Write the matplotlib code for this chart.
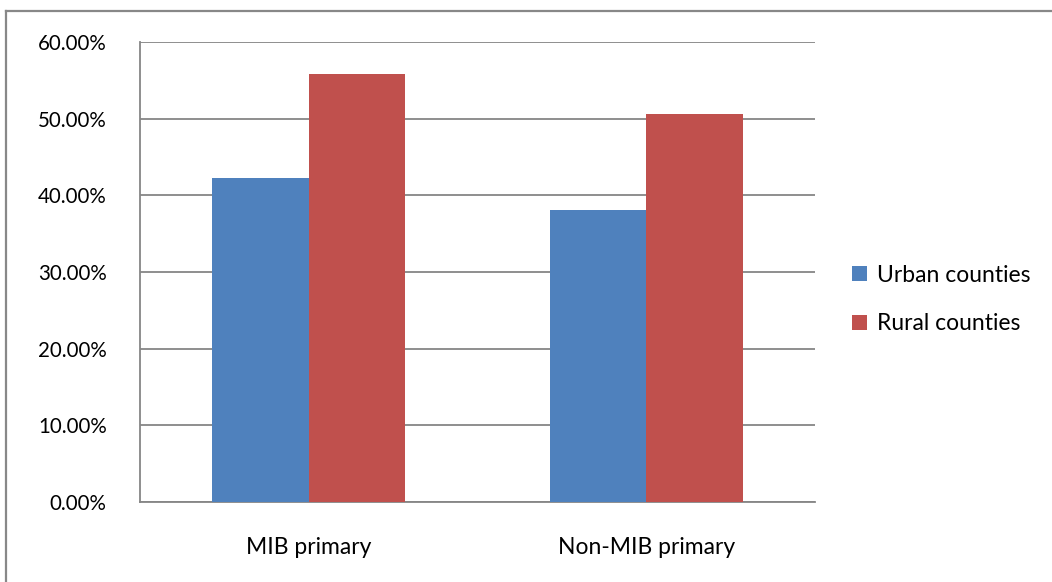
import matplotlib
matplotlib.use("Agg")
from matplotlib import pyplot as plt
from matplotlib.lines import Line2D
from matplotlib.ticker import FuncFormatter
import numpy as np

plt.rcParams['font.family'] = ['Lato', 'DejaVu Sans']

categories = ['MIB primary', 'Non-MIB primary']
urban = [42.3, 38.1]
rural = [55.8, 50.6]
series_names = ['Urban counties', 'Rural counties']
colors = ['#4F81BD', '#C0504D']

fig = plt.figure(figsize=(10.52, 5.82), dpi=100)
ax = fig.add_axes([140 / 1052, 1 - 502 / 582, 675 / 1052, 460 / 582])

x = np.arange(len(categories))
w = 1 / 3.5
ax.bar(x - w / 2, urban, w, color=colors[0], label=series_names[0], zorder=3)
ax.bar(x + w / 2, rural, w, color=colors[1], label=series_names[1], zorder=3)

ax.set_xlim(-0.5, 1.5)
ax.set_ylim(0, 60)
ax.set_yticks(np.arange(0, 61, 10))
ax.yaxis.set_major_formatter(FuncFormatter(lambda v, p: '%.2f%%' % v))
ax.set_xticks(x)
ax.set_xticklabels(categories)
ax.grid(axis='y', color='#868686', linewidth=1.3, zorder=0)
for s in ['top', 'right']:
    ax.spines[s].set_visible(False)
for s in ['left', 'bottom']:
    ax.spines[s].set_color('#868686')
    ax.spines[s].set_linewidth(1.3)
ax.tick_params(axis='both', length=0, colors='black')
ax.tick_params(axis='y', pad=24, labelsize=14.8)
ax.tick_params(axis='x', pad=25, labelsize=16.5)

ax.legend(loc='center left', bbox_to_anchor=(1.025, 0.44), frameon=False,
          fontsize=16.5, handlelength=0.65, handleheight=0.65,
          handletextpad=0.4, labelspacing=1.2)

# outer chart frame (only left and top edges fall inside the image)
fig.add_artist(Line2D([6 / 1052, 6 / 1052], [0, 1 - 11 / 582],
                      color='#888888', linewidth=1.6, transform=fig.transFigure))
fig.add_artist(Line2D([6 / 1052, 1], [1 - 11 / 582, 1 - 11 / 582],
                      color='#888888', linewidth=1.6, transform=fig.transFigure))

fig.savefig('out.png', dpi=100, facecolor='white')
